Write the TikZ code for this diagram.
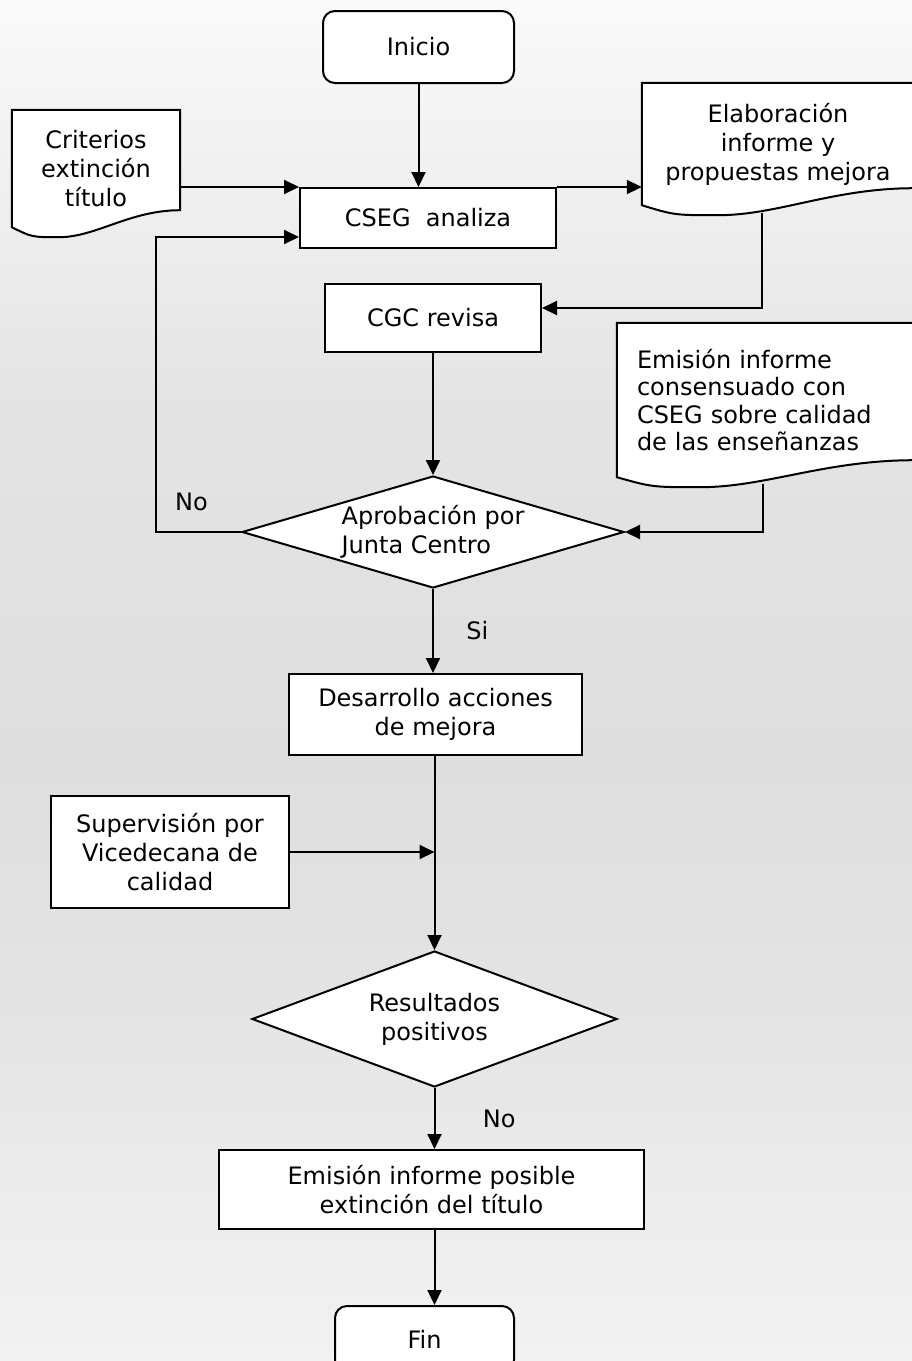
\documentclass[tikz,border=0pt]{standalone}
\usepackage{fontspec}
\setmainfont{DejaVu Sans}
\usetikzlibrary{positioning,calc,shapes.geometric,backgrounds,arrows.meta}
\definecolor{FlowTop}{RGB}{250,250,250}
\definecolor{FlowA}{RGB}{241,241,241}
\definecolor{FlowB}{RGB}{228,228,228}
\definecolor{FlowMid}{RGB}{222,222,222}
\definecolor{FlowC}{RGB}{228,228,228}
\definecolor{FlowD}{RGB}{236,236,236}
\definecolor{FlowBot}{RGB}{242,242,242}

% page background: light at the top, grey in the middle, lighter again at the foot
\pgfdeclareverticalshading{flowbg}{100bp}{color(0bp)=(FlowBot); color(25bp)=(FlowBot);
  color(31bp)=(FlowD); color(38bp)=(FlowC); color(47bp)=(FlowMid); color(60bp)=(FlowB);
  color(69bp)=(FlowA); color(75bp)=(FlowTop); color(100bp)=(FlowTop)}

\tikzset{
  flowfont/.style={font=\fontsize{24}{29}\selectfont},
  box/.style={draw, fill=white, rectangle, line width=2pt, align=center, inner sep=0pt, flowfont},
  term/.style={box, rounded corners=12pt},
  doc/.style={rectangle, align=center, inner sep=0pt, flowfont},
  decision/.style={draw, fill=white, diamond, line width=2pt, inner sep=0pt, flowfont},
  arr/.style={-{Triangle[length=15pt,width=14pt]}, line width=2pt},
  lbl/.style={inner sep=3.3pt, flowfont}
}

% wavy document outline, drawn behind the text of node #1
\newcommand{\docframe}[1]{%
  \begin{pgfonlayer}{background}
    \draw[fill=white, line width=2pt] (#1.south west) -- (#1.north west) -- (#1.north east)
      -- ($(#1.south east)+(0,17pt)$)
      .. controls ($(#1.south west)!0.7!(#1.south east)+(0,17pt)$) and ($(#1.south west)!0.5!(#1.south east)+(0,-10pt)$)
      .. ($(#1.south west)!0.28!(#1.south east)+(0,-10pt)$)
      .. controls ($(#1.south west)!0.12!(#1.south east)+(0,-10pt)$) .. (#1.south west) -- cycle;
  \end{pgfonlayer}}

\begin{document}
\begin{tikzpicture}[x=1pt, y=-1pt]
    \useasboundingbox (0,0) rectangle (912,1361);
    \begin{pgfonlayer}{background}
      \shade[shading=flowbg] (0,0) rectangle (912,1361);
    \end{pgfonlayer}

    % Nodes
    \node [term, minimum width=191pt, minimum height=72pt] (inicio) at (418.5,47) {Inicio};
    \node [doc, minimum width=168pt, minimum height=117pt] (crit) at (96,168.5) {Criterios\\extinción\\título};
    \node [box, minimum width=256pt, minimum height=60pt] (cseg) at (428,218) {CSEG~~analiza};
    \node [doc, minimum width=272pt, minimum height=122pt] (elab) at (778,144) {Elaboración\\informe y\\propuestas mejora};
    \node [box, minimum width=216pt, minimum height=68pt] (cgc) at (433,318) {CGC revisa};
    \node [doc, align=left, text width=257pt, inner xsep=20pt, minimum height=154pt,
           font=\fontsize{24}{27.5}\selectfont] (emis) at (765.5,400)
          {Emisión informe\\consensuado con\\CSEG sobre calidad\\de las enseñanzas};
    \node [decision, align=left, shape aspect=3.4, minimum width=382pt, minimum height=112pt] (aprob) at (433,532)
          {Aprobación por\\Junta Centro};
    \node [box, minimum width=293pt, minimum height=81pt] (desa) at (435.5,714.5) {Desarrollo acciones\\ de mejora};
    \node [box, minimum width=238pt, minimum height=112pt] (superv) at (170,852) {Supervisión por\\Vicedecana de\\calidad};
    \node [decision, align=center, shape aspect=2.7, minimum width=365pt, minimum height=136pt] (result) at (434.5,1019)
          {Resultados\\positivos};
    \node [box, minimum width=425pt, minimum height=79pt] (posible) at (431.5,1189.5)
          {Emisión informe posible\\extinción del título};
    \node [term, minimum width=179pt, minimum height=66pt] (fin) at (424.5,1339) {Fin};

    \docframe{crit}
    \docframe{elab}
    \docframe{emis}

    % Paths
    \draw[arr] (inicio.south) -- (inicio.south |- cseg.north);
    \draw[arr] (crit.east |- cseg.north west) -- (cseg.north west);
    \draw[arr] (cseg.north east) -- (elab.west |- cseg.north east);
    \draw[arr] ($(elab.south west)!0.44!(elab.south east)+(0,-8pt)$) |- ([yshift=10pt]cgc.east);
    \draw[arr] (cgc.south) -- (aprob.north);
    \draw[arr] ($(emis.south west)!0.49!(emis.south east)+(0,-7pt)$) |- (aprob.east);
    \draw[arr] (aprob.west) -- node[lbl, above=17pt, xshift=-7pt]{No} ++(-85pt,0) |- ([yshift=-19pt]cseg.west);
    \draw[arr] (aprob.south) -- node[lbl, right=29pt]{Si} (aprob.south |- desa.north);
    \draw[arr] (desa.south -| result.north) -- (result.north);
    \draw[arr] (superv.east) -- (superv.east -| result.north);
    \draw[arr] (result.south) -- node[lbl, right=44pt]{No} (result.south |- posible.north);
    \draw[arr] (posible.south -| result.south) -- (result.south |- fin.north);
  \end{tikzpicture}
\end{document}
